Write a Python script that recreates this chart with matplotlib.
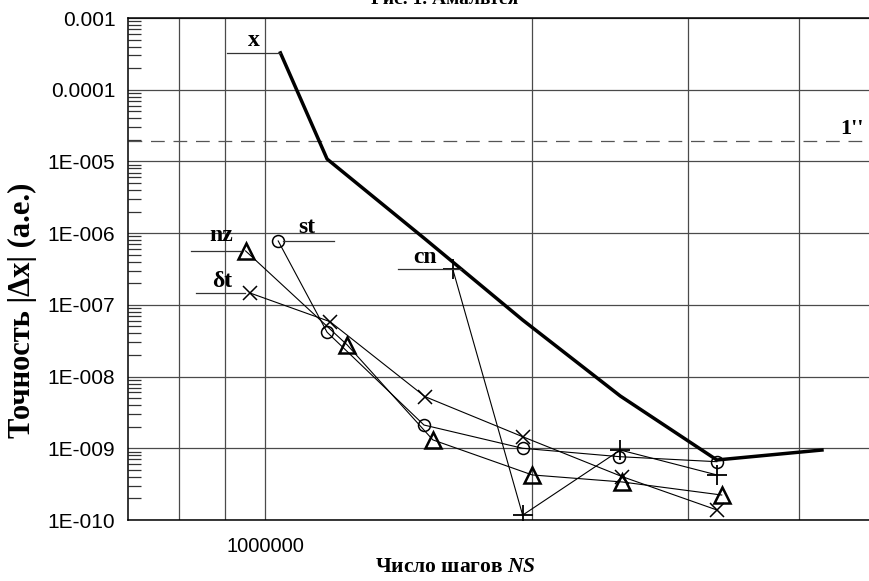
import numpy as np
import matplotlib
matplotlib.use("Agg")
import matplotlib.pyplot as plt
from matplotlib import transforms
from matplotlib.ticker import LogLocator, NullFormatter

plt.rcParams["mathtext.fontset"] = "custom"
plt.rcParams["mathtext.bfit"] = "Liberation Serif:italic:bold"
plt.rcParams["mathtext.it"] = "Liberation Serif:italic"
plt.rcParams["mathtext.rm"] = "Liberation Serif"
plt.rcParams["mathtext.bf"] = "Liberation Serif:bold"

# ------------------------------------
# Data
# ------------------------------------

# thick curve "x"
ns_x = [1.04e6, 1.174e6, 1.514e6, 1.951e6, 2.514e6, 3.231e6, 4.245e6]
acc_x = [3.26e-4, 1.08e-5, 8.3e-7, 6.15e-8, 5.36e-9, 6.87e-10, 9.46e-10]

# "nz" (triangles)
ns_nz = [0.95e6, 1.237e6, 1.545e6, 2.0e6, 2.527e6, 3.272e6]
acc_nz = [5.65e-7, 2.76e-8, 1.31e-9, 4.25e-10, 3.39e-10, 2.23e-10]

# "st" (circles)
ns_st = [1.034e6, 1.174e6, 1.51e6, 1.951e6, 2.508e6, 3.231e6]
acc_st = [7.78e-7, 4.15e-8, 2.11e-9, 1.0e-9, 7.64e-10, 6.5e-10]

# "δt" (crosses)
ns_dt = [0.96e6, 1.183e6, 1.514e6, 1.951e6, 2.527e6, 3.231e6]
acc_dt = [1.47e-7, 5.83e-8, 5.25e-9, 1.45e-9, 4.02e-10, 1.38e-10]

# "cn" (pluses)
ns_cn = [1.627e6, 1.951e6, 2.514e6, 3.231e6]
acc_cn = [3.16e-7, 1.17e-10, 9.46e-10, 4.25e-10]

one_arcsec = 1.9e-5

x_grid = [8e5, 9e5, 1e6, 2e6, 3e6, 4e6]
x_labels = ["", "", "1000000", "", "", ""]
y_ticks = [1e-10, 1e-9, 1e-8, 1e-7, 1e-6, 1e-5, 1e-4, 1e-3]
y_labels = ["1E-010", "1E-009", "1E-008", "1E-007", "1E-006", "1E-005", "0.0001", "0.001"]

serif = ["Liberation Serif", "DejaVu Serif"]
sans = ["Liberation Sans", "DejaVu Sans"]

# ------------------------------------
# Figure
# ------------------------------------
W, H = 870, 581
fig = plt.figure(figsize=(W / 100, H / 100), dpi=100)
ax = fig.add_axes([128 / W, 61 / H, (885 - 128) / W, (520 - 18) / H])
ax.set_xscale("log")
ax.set_yscale("log")
ax.set_xlim(7e5, 5e6)
ax.set_ylim(1e-10, 1e-3)

# grid
ax.set_xticks(x_grid)
ax.set_xticklabels(x_labels, fontfamily=sans, fontsize=14.5)
ax.xaxis.set_minor_locator(plt.NullLocator())
ax.set_yticks(y_ticks)
ax.set_yticklabels(y_labels, fontfamily=sans, fontsize=15)
ax.yaxis.set_minor_locator(LogLocator(base=10, subs=np.arange(2, 10)))
ax.yaxis.set_minor_formatter(NullFormatter())
ax.tick_params(axis="x", which="both", length=0, pad=12)
ax.tick_params(axis="y", which="major", length=0, pad=9)
ax.tick_params(axis="y", which="minor", direction="in", length=9.5, width=0.9, color="#333333")
ax.grid(True, which="major", color="#4a4a4a", linewidth=0.9)
ax.set_axisbelow(True)
for s in ["left", "top", "bottom"]:
    ax.spines[s].set_linewidth(1.1)
ax.spines["right"].set_visible(False)

# 1'' level
ax.axhline(one_arcsec, color="#555555", linewidth=0.9, dashes=(11, 7))

# series
ax.plot(ns_x, acc_x, color="black", linewidth=2.5, zorder=5)
ax.plot(ns_nz, acc_nz, color="black", linewidth=0.8, marker="^", markersize=11.5,
        markerfacecolor="none", markeredgewidth=1.8, zorder=4)
ax.plot(ns_st, acc_st, color="black", linewidth=0.8, marker="o", markersize=8.6,
        markerfacecolor="none", markeredgewidth=1.1, zorder=4)
ax.plot(ns_dt, acc_dt, color="black", linewidth=0.8, marker="x", markersize=9.5,
        markeredgewidth=1.1, zorder=4)
ax.plot(ns_cn, acc_cn, color="black", linewidth=0.8, marker="+", markersize=14,
        markeredgewidth=1.3, zorder=4)


# leader lines with labels, anchored at the first point of each series
def label_series(x0, y0, text, x1, x2, tx, ty):
    # x1, x2, tx, ty are pixel offsets from the point
    p = ax.transData.transform((x0, y0))
    fig.add_artist(plt.Line2D([(p[0] + x1) / W, (p[0] + x2) / W], [p[1] / H, p[1] / H],
                              color="#333333", linewidth=0.9, transform=fig.transFigure))
    tr_t = transforms.offset_copy(ax.transData, fig, x=tx, y=ty, units="dots")
    ax.text(x0, y0, text, transform=tr_t, ha="center", va="center",
            fontfamily=serif, fontweight="bold", fontsize=17)


label_series(ns_x[0], acc_x[0], "x", -53, 0, -27, 12)
label_series(ns_nz[0], acc_nz[0], "nz", -55, -6, -24, 15)
label_series(ns_dt[0], acc_dt[0], "δt", -54, -5, -27, 11)
label_series(ns_st[0], acc_st[0], "st", 5, 56, 29, 13)
label_series(ns_cn[0], acc_cn[0], "cn", -55, 8, -28, 12)

tr_1 = transforms.offset_copy(transforms.blended_transform_factory(ax.transAxes, ax.transData),
                              fig, x=0, y=12, units="dots")
ax.text((852 - 128) / 757, one_arcsec, "1''", transform=tr_1,
        ha="center", va="center", fontfamily=serif, fontweight="bold", fontsize=16)

# axis labels
fig.text(22 / W, 1 - 310 / H, "Точность |Δx| (а.е.)", rotation=90, ha="center", va="center",
         fontfamily=serif, fontweight="bold", fontsize=22)
fig.text(455 / W, 1 - 567 / H, "Число шагов $\\mathbfit{NS}$", ha="center", va="center",
         fontfamily=serif, fontweight="bold", fontsize=15.5)

# title, cut off by the top edge as in the original
fig.text(445 / W, 1 - 4 / H, "Рис. 1. Амальтея", ha="center", va="baseline",
         fontfamily=serif, fontweight="bold", fontsize=14)

fig.savefig("out.png", dpi=100)
